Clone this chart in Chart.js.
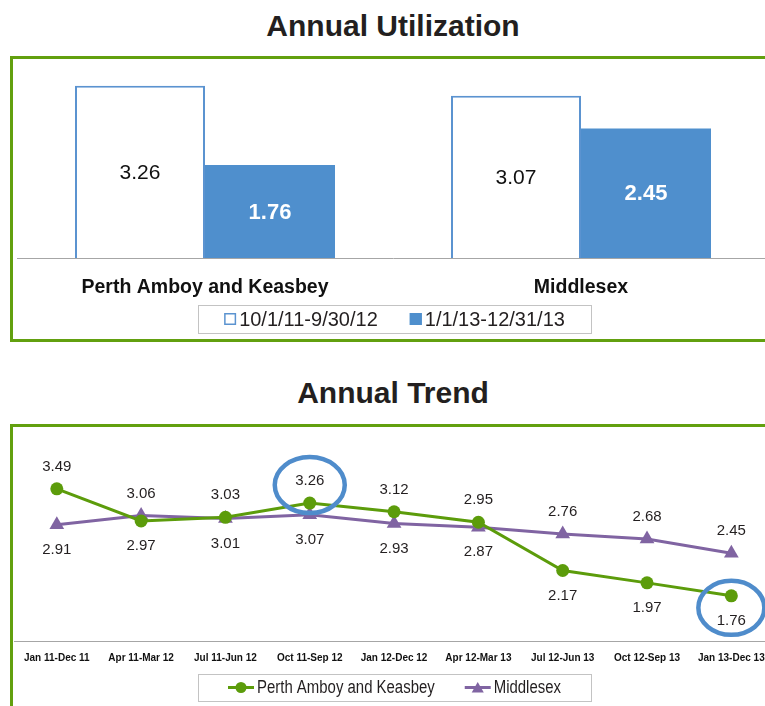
<!DOCTYPE html>
<html>
<head>
<meta charset="utf-8">
<title>Annual Utilization and Annual Trend</title>
<script src="https://cdn.jsdelivr.net/npm/chart.js@4.4.1/dist/chart.umd.min.js"></script>
<style>
  html, body { margin: 0; padding: 0; background: #ffffff; width: 765px; height: 706px; overflow: hidden; }
  .title { position: absolute; left: 0; width: 786px; text-align: center;
           font: bold 30px "Liberation Sans", Arial, sans-serif; line-height: 30px; color: #231f20; }
  .frame { position: absolute; left: 10px; width: 800px; border: 3px solid #62a00f; }
  canvas { position: absolute; }
</style>
</head>
<body>
<div class="title" style="top:11px">Annual Utilization</div>
<div class="frame" style="top:56px;height:280px"></div>
<canvas id="utilization" width="763" height="280" style="left:13px;top:59px"></canvas>

<div class="title" style="top:378px">Annual Trend</div>
<div class="frame" style="top:424px;height:400px"></div>
<canvas id="trend" width="763" height="279" style="left:13px;top:427px"></canvas>

<script>
// ---- data ----
const regions = ['Perth Amboy and Keasbey', 'Middlesex'];
const periodNames = ['10/1/11-9/30/12', '1/1/13-12/31/13'];
const utilizationFirstPeriod = [3.26, 3.07];
const utilizationSecondPeriod = [1.76, 2.45];

const trendPeriods = ['Jan 11-Dec 11', 'Apr 11-Mar 12', 'Jul 11-Jun 12', 'Oct 11-Sep 12',
  'Jan 12-Dec 12', 'Apr 12-Mar 13', 'Jul 12-Jun 13', 'Oct 12-Sep 13', 'Jan 13-Dec 13'];
const perthAmboyTrend = [3.49, 2.97, 3.03, 3.26, 3.12, 2.95, 2.17, 1.97, 1.76];
const middlesexTrend  = [2.91, 3.06, 3.01, 3.07, 2.93, 2.87, 2.76, 2.68, 2.45];
const circledPeriods = ['Oct 11-Sep 12', 'Jan 13-Dec 13'];

// ---- shared styling ----
const SANS = '"Liberation Sans", Arial, sans-serif';
const TEXT = '#231f20';
const BLUE = '#4f8fcd';
const GREEN = '#5c9c0b';
const PURPLE = '#8064a2';
const LEGEND_EDGE = '#c3c3c3';

// Legend drawn as a framed row of items centred in a given box.
// `stretch` narrows the text horizontally for a condensed look.
function drawFramedLegend(ctx, box, items, font, gap, markerWidth, stretch) {
  ctx.save();
  ctx.font = font;
  const widths = items.map(it => markerWidth + it.textGap + ctx.measureText(it.text).width * stretch);
  const total = widths.reduce((a, b) => a + b, 0) + gap * (items.length - 1);
  ctx.strokeStyle = LEGEND_EDGE;
  ctx.lineWidth = 1;
  ctx.strokeRect(box.x + 0.5, box.y + 0.5, box.w, box.h);
  let x = box.x + (box.w - total) / 2;
  const cy = box.y + box.h / 2;
  items.forEach((it, i) => {
    it.marker(ctx, x, cy);
    ctx.save();
    ctx.fillStyle = TEXT;
    ctx.textAlign = 'left';
    ctx.textBaseline = 'middle';
    ctx.translate(x + markerWidth + it.textGap, cy + 1);
    ctx.scale(stretch, 1);
    ctx.fillText(it.text, 0, 0);
    ctx.restore();
    x += widths[i] + gap;
  });
  ctx.restore();
}

// Value written in the middle of each bar.
const barValues = {
  id: 'barValues',
  afterDatasetsDraw(chart) {
    const ctx = chart.ctx;
    chart.data.datasets.forEach((ds, di) => {
      chart.getDatasetMeta(di).data.forEach((bar, i) => {
        ctx.save();
        ctx.font = ds.valueFont;
        ctx.fillStyle = ds.valueColor;
        ctx.textAlign = 'center';
        ctx.textBaseline = 'middle';
        ctx.fillText(ds.data[i].toFixed(2), bar.x, (bar.y + bar.base) / 2 + 1);
        ctx.restore();
      });
    });
  }
};

const barLegend = {
  id: 'barLegend',
  afterDraw(chart) {
    const items = chart.data.datasets.map(ds => ({
      text: ds.label,
      textGap: 3,
      marker(ctx, x, cy) {
        ctx.fillStyle = ds.backgroundColor;
        ctx.fillRect(x, cy - 6, 12, 12);
        ctx.strokeStyle = ds.borderColor;
        ctx.lineWidth = 1.5;
        ctx.strokeRect(x + 0.75, cy - 5.25, 10.5, 10.5);
      }
    }));
    drawFramedLegend(chart.ctx, { x: 185, y: 246, w: 393, h: 28 }, items, '20px ' + SANS, 32, 12, 1);
  }
};

new Chart(document.getElementById('utilization'), {
  type: 'bar',
  data: {
    labels: regions,
    datasets: [
      { label: periodNames[0], data: utilizationFirstPeriod, backgroundColor: '#ffffff',
        borderColor: '#5b93d0', borderWidth: 2, valueFont: '21px ' + SANS, valueColor: '#111111' },
      { label: periodNames[1], data: utilizationSecondPeriod, backgroundColor: BLUE,
        borderColor: BLUE, borderWidth: 0, valueFont: 'bold 22px ' + SANS, valueColor: '#ffffff' }
    ]
  },
  options: {
    responsive: false,
    animation: false,
    devicePixelRatio: 1,
    layout: { autoPadding: false, padding: { left: 4, right: 7, top: 14, bottom: 0 } },
    datasets: { bar: { barPercentage: 1, categoryPercentage: 0.6915 } },
    plugins: { legend: { display: false }, tooltip: { enabled: false } },
    scales: {
      x: {
        grid: { display: false, drawTicks: false },
        border: { display: true, color: '#a6a6a6', width: 1 },
        ticks: { color: '#111111', padding: 18, font: { family: SANS, size: 19.5, weight: 'bold' } },
        afterFit(scale) { scale.height = 81; }
      },
      y: { display: false, min: 0, max: 3.5 }
    }
  },
  plugins: [barValues, barLegend]
});

// Values beside each point: the higher of the two series is labelled above, the lower below.
function labelPlacement(chart, di, i) {
  const own = chart.data.datasets[di].data[i];
  const other = chart.data.datasets[1 - di].data[i];
  return own >= other ? 'above' : 'below';
}

const pointValues = {
  id: 'pointValues',
  afterDatasetsDraw(chart) {
    const ctx = chart.ctx;
    ctx.save();
    ctx.font = '15px ' + SANS;
    ctx.fillStyle = TEXT;
    ctx.textAlign = 'center';
    ctx.textBaseline = 'middle';
    chart.data.datasets.forEach((ds, di) => {
      chart.getDatasetMeta(di).data.forEach((pt, i) => {
        const dy = labelPlacement(chart, di, i) === 'above' ? -22 : 25;
        ctx.fillText(ds.data[i].toFixed(2), pt.x, pt.y + dy);
      });
    });
    ctx.restore();
  }
};

// Blue rings around the Perth Amboy values of the circled periods.
const callouts = {
  id: 'callouts',
  afterDatasetsDraw(chart) {
    const ctx = chart.ctx;
    const meta = chart.getDatasetMeta(0);
    ctx.save();
    ctx.strokeStyle = '#4f8ccb';
    ctx.lineWidth = 4.5;
    circledPeriods.forEach(name => {
      const i = chart.data.labels.indexOf(name);
      const pt = meta.data[i];
      const above = labelPlacement(chart, 0, i) === 'above';
      const cy = above ? pt.y - 18 : pt.y + 12;
      ctx.beginPath();
      ctx.ellipse(pt.x, cy, above ? 35 : 33, above ? 28 : 27, 0, 0, Math.PI * 2);
      ctx.stroke();
    });
    ctx.restore();
  }
};

const lineLegend = {
  id: 'lineLegend',
  afterDraw(chart) {
    const items = chart.data.datasets.map(ds => ({
      text: ds.label,
      textGap: 3,
      marker(ctx, x, cy) {
        ctx.save();
        ctx.strokeStyle = ds.borderColor;
        ctx.lineWidth = 3;
        ctx.beginPath();
        ctx.moveTo(x, cy);
        ctx.lineTo(x + 26, cy);
        ctx.stroke();
        ctx.fillStyle = ds.pointBackgroundColor;
        ctx.strokeStyle = ds.pointBorderColor;
        Chart.helpers.drawPoint(ctx, {
          pointStyle: ds.pointStyle, rotation: 0,
          radius: ds.pointStyle === 'triangle' ? 7 : 5.5, borderWidth: 0
        }, x + 13, ds.pointStyle === 'triangle' ? cy + 1.5 : cy);
        ctx.restore();
      }
    }));
    drawFramedLegend(chart.ctx, { x: 185, y: 247, w: 393, h: 27 }, items, '18px ' + SANS, 30, 26, 0.83);
  }
};

new Chart(document.getElementById('trend'), {
  type: 'line',
  data: {
    labels: trendPeriods,
    datasets: [
      { label: 'Perth Amboy and Keasbey', data: perthAmboyTrend, borderColor: GREEN, borderWidth: 3,
        pointStyle: 'circle', pointRadius: 6.5, pointBackgroundColor: GREEN, pointBorderColor: GREEN,
        pointBorderWidth: 0, tension: 0 },
      { label: 'Middlesex', data: middlesexTrend, borderColor: PURPLE, borderWidth: 3,
        pointStyle: 'triangle', pointRadius: 8.5, pointBackgroundColor: PURPLE, pointBorderColor: PURPLE,
        pointBorderWidth: 0, tension: 0 }
    ]
  },
  options: {
    responsive: false,
    animation: false,
    devicePixelRatio: 1,
    layout: { autoPadding: false, padding: { left: 0, right: 2.5, top: 30.3, bottom: 0 } },
    plugins: { legend: { display: false }, tooltip: { enabled: false } },
    scales: {
      x: {
        offset: true,
        grid: { display: false, drawTicks: false },
        border: { display: true, color: '#a6a6a6', width: 1 },
        ticks: { color: '#111111', padding: 11, maxRotation: 0, autoSkip: false,
                 font: { family: SANS, size: 10, weight: 'bold' } },
        afterFit(scale) { scale.height = 65; }
      },
      y: { display: false, min: 1.03, max: 4 }
    }
  },
  plugins: [pointValues, callouts, lineLegend]
});
</script>
</body>
</html>
